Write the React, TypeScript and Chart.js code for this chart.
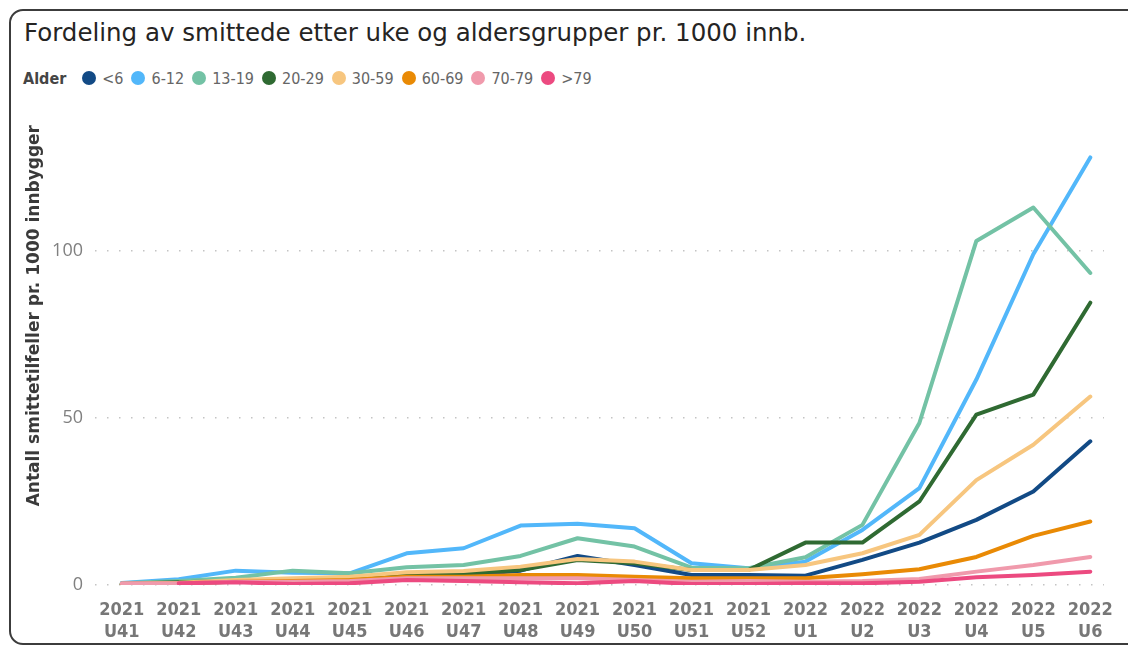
import React, { useEffect, useRef } from "react";
import { Chart, registerables } from "chart.js";

Chart.register(...registerables);

const years = ["2021","2021","2021","2021","2021","2021","2021","2021","2021","2021","2021","2021","2022","2022","2022","2022","2022","2022"];
const weeks = ["U41","U42","U43","U44","U45","U46","U47","U48","U49","U50","U51","U52","U1","U2","U3","U4","U5","U6"];

const seriesNames = ["<6", "6-12", "13-19", "20-29", "30-59", "60-69", "70-79", ">79"];
const seriesColors = ["#124a85", "#52b7fa", "#73c2a5", "#2f6a32", "#f7c67f", "#e98a05", "#f09aac", "#ec4a80"];

const ageLt6 = [0.3, 0.5, 1.0, 1.5, 2.0, 3.0, 3.0, 4.3, 8.7, 6.0, 3.0, 3.0, 2.8, 7.5, 12.7, 19.5, 28.0, 43.0];
const age6to12 = [0.6, 1.7, 4.3, 3.7, 3.5, 9.5, 11.0, 17.8, 18.3, 17.0, 6.5, 5.0, 7.0, 16.5, 29.0, 61.5, 99.0, 128.0];
const age13to19 = [0.5, 1.2, 2.2, 4.3, 3.5, 5.3, 6.0, 8.7, 14.0, 11.5, 5.2, 5.0, 8.3, 18.0, 48.5, 103.0, 113.0, 93.4];
const age20to29 = [0.4, 0.8, 1.2, 1.5, 2.0, 3.5, 3.5, 4.5, 7.5, 6.5, 4.5, 4.5, 12.7, 12.7, 25.0, 51.0, 57.0, 84.5];
const age30to59 = [0.3, 0.7, 1.5, 2.0, 2.5, 3.8, 4.2, 5.5, 7.8, 7.0, 4.5, 4.5, 6.0, 9.5, 15.0, 31.4, 42.0, 56.4];
const age60to69 = [0.3, 0.5, 1.0, 1.2, 1.5, 2.5, 2.5, 3.0, 3.0, 2.5, 2.0, 2.0, 2.0, 3.2, 4.7, 8.4, 14.7, 19.0];
const age70to79 = [0.5, 0.5, 1.0, 1.0, 1.2, 2.0, 2.0, 2.0, 2.0, 1.5, 1.0, 1.2, 1.0, 1.2, 1.8, 4.0, 6.0, 8.4];
const ageOver79 = [null, 0.5, 0.8, 0.3, 0.5, 1.5, 1.2, 0.8, 0.5, 1.2, 0.3, 0.3, 0.5, 0.5, 1.0, 2.3, 3.0, 4.0];

const seriesValues = [ageLt6, age6to12, age13to19, age20to29, age30to59, age60to69, age70to79, ageOver79];

const yTicks = [0, 50, 100];
const yMax = 137.7;

const titleText = "Fordeling av smittede etter uke og aldersgrupper pr. 1000 innb.";
const yTitle = "Antall smittetilfeller pr. 1000 innbygger";
const legendTitle = "Alder";

export default function App() {
  const canvasRef = useRef<HTMLCanvasElement | null>(null);

  useEffect(() => {
    const canvas = canvasRef.current;
    if (!canvas) return;
    const n = seriesNames.length;
    const chart = new Chart(canvas, {
      type: "line",
      data: {
        datasets: seriesNames.map((name, i) => ({
          label: name,
          data: seriesValues[i].map((v, k) => ({ x: k, y: v })),
          borderColor: seriesColors[i],
          backgroundColor: seriesColors[i],
          borderWidth: 4,
          pointRadius: 0,
          pointHoverRadius: 0,
          tension: 0,
          borderJoinStyle: "round",
          borderCapStyle: "round",
          spanGaps: false,
          order: n - i,
        })),
      },
      options: {
        animation: false,
        responsive: false,
        maintainAspectRatio: false,
        layout: { padding: { top: 125, right: 12, left: 0, bottom: 0 } },
        plugins: {
          legend: { display: false },
          title: { display: false },
          tooltip: { enabled: false },
        },
        scales: {
          x: {
            type: "linear",
            min: -0.47,
            max: 17.24,
            grid: { display: false, drawTicks: false },
            border: { display: false },
            afterFit: (scale: any) => {
              scale.height = 63;
            },
            ticks: {
              stepSize: 1,
              includeBounds: false,
              autoSkip: false,
              maxRotation: 0,
              minRotation: 0,
              padding: 15,
              color: "#777777",
              font: { family: "'Liberation Sans Narrow', 'DejaVu Sans Condensed', sans-serif", size: 18, weight: "bold", lineHeight: 1.18 },
              callback: (value: any) => {
                const i = Math.round(Number(value));
                if (Math.abs(Number(value) - i) > 1e-6 || i < 0 || i >= weeks.length) return "";
                return [years[i], weeks[i]];
              },
            },
          },
          y: {
            min: 0,
            max: yMax,
            afterFit: (scale: any) => {
              scale.width = 95;
            },
            afterBuildTicks: (scale: any) => {
              scale.ticks = yTicks.map((v) => ({ value: v }));
            },
            grid: { color: "#c4c4c4", lineWidth: 1.5, drawTicks: false },
            border: { display: false, dash: [1.5, 10.5] },
            ticks: {
              padding: 12,
              color: "#808080",
              font: { family: "'Open Sans', sans-serif", size: 18 },
            },
            title: {
              display: true,
              text: yTitle,
              align: "end",
              color: "#3a3a3a",
              padding: { top: 24, bottom: 0 },
              font: { family: "'DejaVu Sans', sans-serif", size: 17, weight: "bold" },
            },
          },
        },
      },
    });
    return () => chart.destroy();
  }, []);

  return (
    <div style={{ position: "absolute", left: 0, top: 0, width: 1128, height: 648, overflow: "hidden", background: "#ffffff" }}>
      <div
        style={{
          position: "absolute",
          left: 9,
          top: 9,
          width: 1200,
          height: 636,
          border: "2px solid #3c3c3c",
          borderRadius: 14,
          boxSizing: "border-box",
        }}
      />
      <div
        style={{
          position: "absolute",
          left: 24,
          top: 20,
          fontFamily: "'DejaVu Sans', sans-serif",
          fontSize: 24.5,
          lineHeight: "25px",
          color: "#252423",
          whiteSpace: "nowrap",
        }}
      >
        {titleText}
      </div>
      <div
        style={{
          position: "absolute",
          left: 23,
          top: 68,
          height: 20,
          display: "flex",
          alignItems: "center",
          fontFamily: "'DejaVu Sans Condensed', sans-serif",
          fontSize: 16,
          color: "#666666",
          whiteSpace: "nowrap",
        }}
      >
        <span style={{ fontWeight: "bold", color: "#454545", marginRight: 16 }}>{legendTitle}</span>
        {seriesNames.map((name, i) => (
          <span key={name} style={{ display: "flex", alignItems: "center", marginRight: 8 }}>
            <span
              style={{
                display: "inline-block",
                width: 14,
                height: 14,
                borderRadius: 7,
                background: seriesColors[i],
                marginRight: 6,
              }}
            />
            <span>{name}</span>
          </span>
        ))}
      </div>
      <canvas ref={canvasRef} width={1128} height={648} style={{ position: "absolute", left: 0, top: 0, width: 1128, height: 648 }} />
    </div>
  );
}
